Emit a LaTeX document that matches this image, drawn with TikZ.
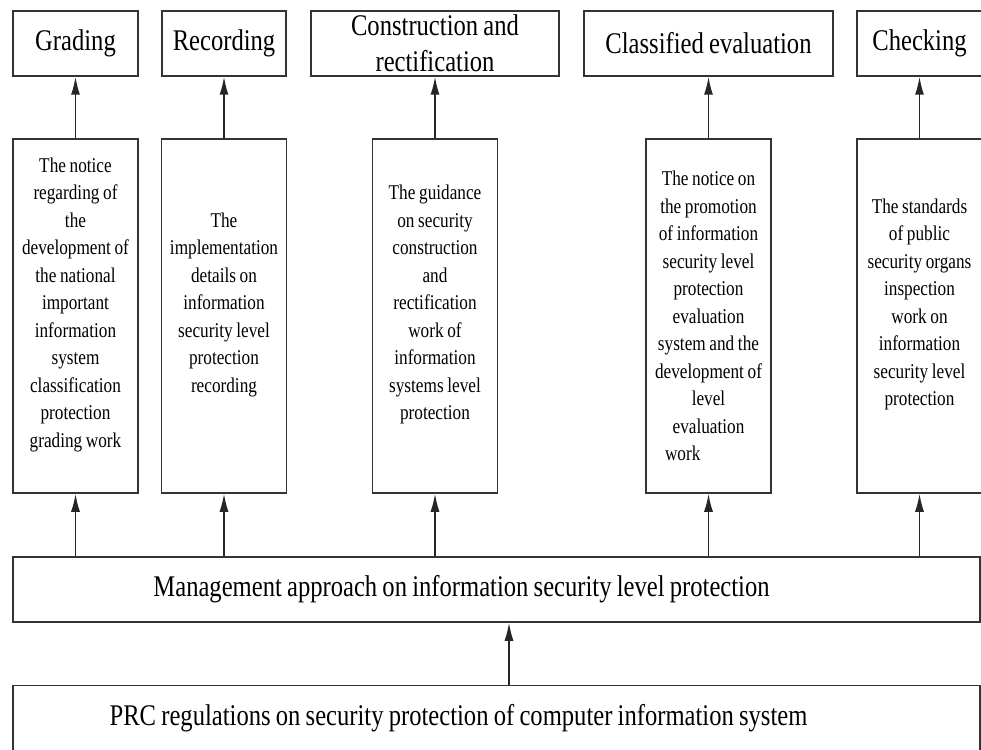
\documentclass[tikz,border=0pt]{standalone}
\usepackage{fontspec}
\newfontfamily\narrowserif[FakeStretch=0.82,WordSpace=0.85]{Liberation Serif}
\usetikzlibrary{arrows.meta}

\begin{document}
\begin{tikzpicture}[x=1pt,y=-1pt,
    box/.style={draw=black!80,line width=1.5pt,fill=white,inner sep=0pt,align=flush center},
    stage/.style={box,minimum height=65pt,font=\narrowserif\fontsize{30}{36}\selectfont},
    doc/.style={box,minimum width=125pt,minimum height=354pt,text width=121pt,font=\narrowserif\fontsize{21}{27.5}\selectfont},
    law/.style={box,minimum width=967pt,minimum height=65pt,font=\narrowserif\fontsize{30}{36}\selectfont},
    up/.style={draw=black!85,line width=1.5pt,-{Latex[length=18pt,width=9pt]}}]
    \useasboundingbox[fill=white] (0,0) rectangle (981,749);

    \node[stage,minimum width=125pt] (t1) at (75.5,43.5) {Grading};
    \node[stage,minimum width=124pt] (t2) at (224,43.5) {Recording};
    \node[stage,minimum width=248pt] (t3) at (435,43.5) {Construction and\\rectification};
    \node[stage,minimum width=249pt] (t4) at (708.5,43.5) {Classified evaluation};
    \node[stage,minimum width=125pt] (t5) at (919.5,43.5) {Checking};

    \node[doc] (b1) at (75.5,316) {The notice\\regarding of\\the\\development of\\the national\\important\\information\\system\\classification\\protection\\grading work\\~};
    \node[doc] (b2) at (224,316) {The\\implementation\\details on\\information\\security level\\protection\\recording\\~};
    \node[doc] (b3) at (435,316) {The guidance\\on security\\construction\\and\\rectification\\work of\\information\\systems level\\protection\\~};
    \node[doc] (b4) at (708.5,316) {The notice on\\the promotion\\of information\\security level\\protection\\evaluation\\system and the\\development of\\level\\evaluation\\\makebox[87pt][l]{work}};
    \node[doc] (b5) at (919.5,316) {The standards\\of public\\security organs\\inspection\\work on\\information\\security level\\protection\\~};

    \node[law] (mgmt) at (496.5,589.5) {Management approach on information security level protection\hspace*{70pt}};
    \node[law] (prc) at (496.5,718) {PRC regulations on security protection of computer information system\hspace*{76pt}};

    \draw[up] (b1) -- (t1);
    \draw[up] (b2) -- (t2);
    \draw[up] (b3) -- (t3);
    \draw[up] (b4) -- (t4);
    \draw[up] (b5) -- (t5);

    \draw[up] (mgmt.north -| b1) -- (b1);
    \draw[up] (mgmt.north -| b2) -- (b2);
    \draw[up] (mgmt.north -| b3) -- (b3);
    \draw[up] (mgmt.north -| b4) -- (b4);
    \draw[up] (mgmt.north -| b5) -- (b5);

    \draw[up] ([xshift=12.5pt]prc.north) -- ([xshift=12.5pt]mgmt.south);
\end{tikzpicture}
\end{document}
